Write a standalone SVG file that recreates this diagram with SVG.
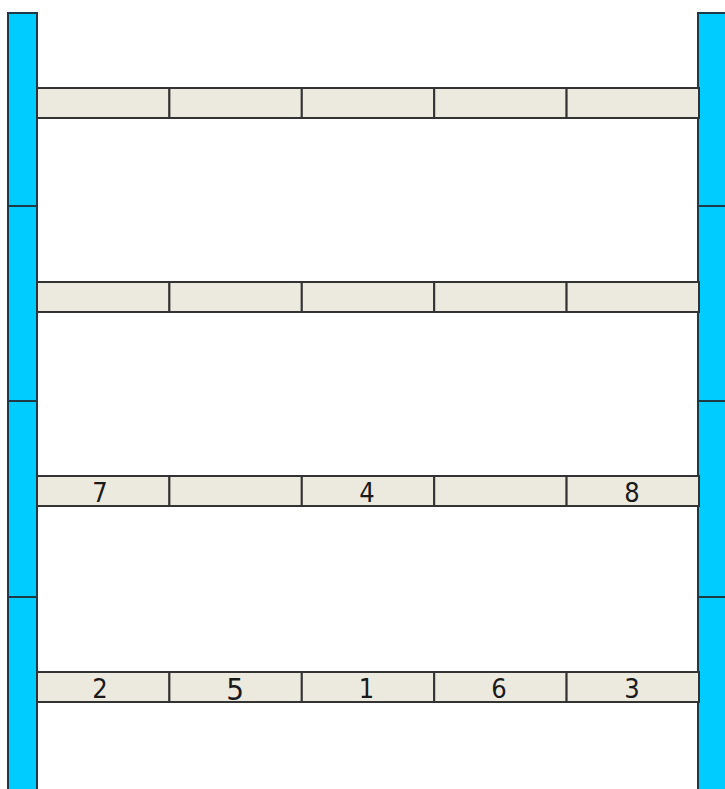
<svg xmlns="http://www.w3.org/2000/svg" width="725" height="789" viewBox="0 0 725 789">
<style>
.post{fill:#00CCFF;stroke:#1E3A48;stroke-width:2}
.cell{fill:#ECEADF;stroke:#333333;stroke-width:2}
.lbl{font-family:"DejaVu Sans Condensed","DejaVu Sans",Tahoma,sans-serif;font-size:27px;fill:#1A1A1A;text-anchor:middle}
.big{font-size:31px}
</style>
<rect width="725" height="789" fill="#FFFFFF"/>
<g id="post-left">
<rect class="post" x="8" y="13" width="29" height="193"/>
<rect class="post" x="8" y="206" width="29" height="195"/>
<rect class="post" x="8" y="401" width="29" height="196"/>
<rect class="post" x="8" y="597" width="29" height="195"/>
</g>
<g id="post-right">
<rect class="post" x="698" y="13" width="30" height="193"/>
<rect class="post" x="698" y="206" width="30" height="195"/>
<rect class="post" x="698" y="401" width="30" height="196"/>
<rect class="post" x="698" y="597" width="30" height="195"/>
</g>
<g id="shelf-1">
<rect class="cell" x="37" y="88" width="132.4" height="30"/>
<rect class="cell" x="169.4" y="88" width="132.4" height="30"/>
<rect class="cell" x="301.8" y="88" width="132.4" height="30"/>
<rect class="cell" x="434.2" y="88" width="132.4" height="30"/>
<rect class="cell" x="566.6" y="88" width="132.4" height="30"/>
</g>
<g id="shelf-2">
<rect class="cell" x="37" y="282" width="132.4" height="30"/>
<rect class="cell" x="169.4" y="282" width="132.4" height="30"/>
<rect class="cell" x="301.8" y="282" width="132.4" height="30"/>
<rect class="cell" x="434.2" y="282" width="132.4" height="30"/>
<rect class="cell" x="566.6" y="282" width="132.4" height="30"/>
</g>
<g id="shelf-3">
<rect class="cell" x="37" y="476" width="132.4" height="30"/>
<rect class="cell" x="169.4" y="476" width="132.4" height="30"/>
<rect class="cell" x="301.8" y="476" width="132.4" height="30"/>
<rect class="cell" x="434.2" y="476" width="132.4" height="30"/>
<rect class="cell" x="566.6" y="476" width="132.4" height="30"/>
<text class="lbl" x="100" y="501.5">7</text>
<text class="lbl" x="367" y="501.5">4</text>
<text class="lbl" x="632" y="501.5">8</text>
</g>
<g id="shelf-4">
<rect class="cell" x="37" y="672" width="132.4" height="30"/>
<rect class="cell" x="169.4" y="672" width="132.4" height="30"/>
<rect class="cell" x="301.8" y="672" width="132.4" height="30"/>
<rect class="cell" x="434.2" y="672" width="132.4" height="30"/>
<rect class="cell" x="566.6" y="672" width="132.4" height="30"/>
<text class="lbl" x="100" y="697.5">2</text>
<text class="lbl big" x="235" y="700">5</text>
<text class="lbl" x="366.5" y="697.5">1</text>
<text class="lbl" x="499" y="697.5">6</text>
<text class="lbl" x="632" y="697.5">3</text>
</g>
</svg>
